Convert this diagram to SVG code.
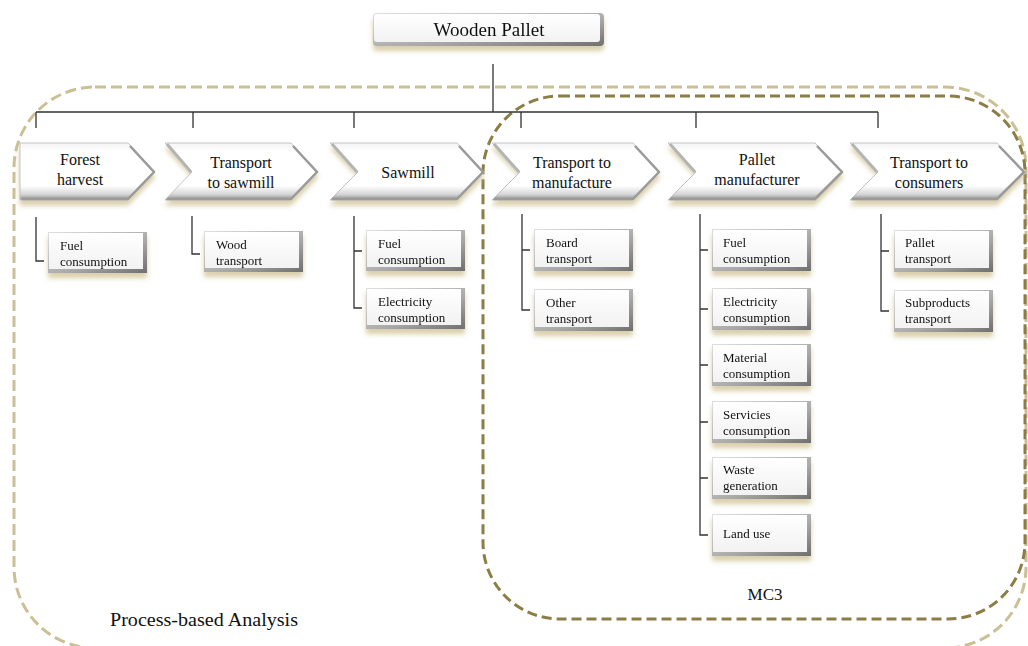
<svg xmlns="http://www.w3.org/2000/svg" width="1028" height="646" viewBox="0 0 1028 646">
<defs>
<linearGradient id="chevG" x1="0" y1="0" x2="0" y2="1">
<stop offset="0" stop-color="#f4f4f4"/>
<stop offset="0.15" stop-color="#ffffff"/>
<stop offset="0.75" stop-color="#ffffff"/>
<stop offset="0.9" stop-color="#d6d6d6"/>
<stop offset="1" stop-color="#8a8a8a"/>
</linearGradient>
<linearGradient id="boxEdge" x1="0" y1="0" x2="1" y2="1">
<stop offset="0" stop-color="#e0e0e0"/>
<stop offset="0.6" stop-color="#a8a8a8"/>
<stop offset="1" stop-color="#6f6f6f"/>
</linearGradient>
<linearGradient id="boxFace" x1="0" y1="0" x2="0" y2="1">
<stop offset="0" stop-color="#ffffff"/>
<stop offset="1" stop-color="#f2f2f2"/>
</linearGradient>
<filter id="sh" x="-10%" y="-20%" width="120%" height="160%">
<feGaussianBlur in="SourceAlpha" stdDeviation="2.5"/>
<feOffset dx="0" dy="5" result="b"/>
<feFlood flood-color="#cdbf8f" flood-opacity="0.75"/>
<feComposite in2="b" operator="in" result="s"/>
<feMerge><feMergeNode in="s"/><feMergeNode in="SourceGraphic"/></feMerge>
</filter>
</defs>
<style>
.chev{fill:url(#chevG);stroke:#c4c4c4;stroke-width:1;filter:url(#sh)}
.bev{fill:none;stroke:#9a9a9a;stroke-width:2.5;stroke-linejoin:round}
.notch{fill:none;stroke:#b4b4b4;stroke-width:3;stroke-linejoin:round}
.ct{font-family:"Liberation Serif","Times New Roman",serif;font-size:16px;fill:#111;text-anchor:middle}
.bt{font-family:"Liberation Serif","Times New Roman",serif;font-size:13px;fill:#111}
.edge{fill:url(#boxEdge)}
.face{fill:url(#boxFace)}
.conn{fill:none;stroke:#333;stroke-width:1.3}
.outer{fill:none;stroke:#cbbf95;stroke-width:3;stroke-dasharray:11 5}
.inner{fill:none;stroke:#8c7d45;stroke-width:3;stroke-dasharray:10 5}
.lbl{font-family:"Liberation Serif","Times New Roman",serif;fill:#111;text-anchor:middle}
</style>
<rect width="1028" height="646" fill="#fff"/>

<g id="boundaries">
<rect class="outer" x="14" y="87" width="1012" height="561" rx="81" ry="81"/>
<rect class="inner" x="483" y="96" width="542" height="523" rx="77" ry="77"/>
</g>

<g id="connectors">
<path class="conn" d="M493 64V112M36 112H878M36 112V128M193 112V128M354 112V128M521 112V128M696 112V128M878 112V128"/>
<path class="conn" d="M36 217V261H44"/>
<path class="conn" d="M192 216V254H200"/>
<path class="conn" d="M354 216V308H362M354 251H362"/>
<path class="conn" d="M522 214V310H530M522 250H530"/>
<path class="conn" d="M700 214V535H708M700 250H708M700 309H708M700 365H708M700 422H708M700 478H708"/>
<path class="conn" d="M881 214V311H889M881 251H889"/>
</g>

<g id="root" filter="url(#sh)">
<rect x="373" y="13" width="231" height="33" rx="4" fill="url(#boxEdge)"/>
<rect x="374" y="14" width="226" height="28" rx="3" class="face"/>
<text class="lbl" x="489" y="36" font-size="19">Wooden Pallet</text>
</g>

<g id="forest-harvest">
<polygon class="chev" points="20,143 128,143 155,172 128,200 20,200"/>
<polyline class="bev" points="130,146 154,172 128,199 22,199"/>
<text class="ct" x="80" y="165">Forest</text>
<text class="ct" x="80" y="185">harvest</text>
</g>
<g id="transport-sawmill">
<polygon class="chev" points="165,143 291,143 318,172 291,200 165,200 192,172"/>
<polyline class="notch" points="167,144 191,172"/>
<polyline class="bev" points="293,146 317,172 291,199 167,199"/>
<text class="ct" x="241" y="168">Transport</text>
<text class="ct" x="241" y="188">to sawmill</text>
</g>
<g id="sawmill">
<polygon class="chev" points="330,143 457,143 484,172 457,200 330,200 358,172"/>
<polyline class="notch" points="332,144 357,172"/>
<polyline class="bev" points="459,146 483,172 457,199 332,199"/>
<text class="ct" x="408" y="178">Sawmill</text>
</g>
<g id="transport-manufacture">
<polygon class="chev" points="492,143 633,143 660,172 633,200 492,200 520,172"/>
<polyline class="notch" points="494,144 519,172"/>
<polyline class="bev" points="635,146 659,172 633,199 494,199"/>
<text class="ct" x="572" y="168">Transport to</text>
<text class="ct" x="572" y="188">manufacture</text>
</g>
<g id="pallet-manufacturer">
<polygon class="chev" points="668,143 815,143 843,172 815,200 668,200 696,172"/>
<polyline class="notch" points="670,144 695,172"/>
<polyline class="bev" points="817,146 842,172 815,199 670,199"/>
<text class="ct" x="757" y="165">Pallet</text>
<text class="ct" x="757" y="185">manufacturer</text>
</g>
<g id="transport-consumers">
<polygon class="chev" points="850,143 997,143 1025,172 997,200 850,200 878,172"/>
<polyline class="notch" points="852,144 877,172"/>
<polyline class="bev" points="999,146 1024,172 997,199 852,199"/>
<text class="ct" x="929" y="168">Transport to</text>
<text class="ct" x="929" y="188">consumers</text>
</g>

<g id="fh-fuel" filter="url(#sh)">
<rect class="edge" x="48" y="232" width="99" height="41"/>
<rect class="face" x="49" y="233" width="94" height="36"/>
<text class="bt" x="60" y="250">Fuel</text><text class="bt" x="60" y="266">consumption</text>
</g>
<g id="ts-wood" filter="url(#sh)">
<rect class="edge" x="204" y="231" width="99" height="41"/>
<rect class="face" x="205" y="232" width="94" height="36"/>
<text class="bt" x="216" y="249">Wood</text><text class="bt" x="216" y="265">transport</text>
</g>
<g id="sm-fuel" filter="url(#sh)">
<rect class="edge" x="366" y="230" width="99" height="41"/>
<rect class="face" x="367" y="231" width="94" height="36"/>
<text class="bt" x="378" y="248">Fuel</text><text class="bt" x="378" y="264">consumption</text>
</g>
<g id="sm-elec" filter="url(#sh)">
<rect class="edge" x="366" y="288" width="99" height="41"/>
<rect class="face" x="367" y="289" width="94" height="36"/>
<text class="bt" x="378" y="306">Electricity</text><text class="bt" x="378" y="322">consumption</text>
</g>
<g id="tm-board" filter="url(#sh)">
<rect class="edge" x="534" y="229" width="99" height="42"/>
<rect class="face" x="535" y="230" width="94" height="37"/>
<text class="bt" x="546" y="247">Board</text><text class="bt" x="546" y="263">transport</text>
</g>
<g id="tm-other" filter="url(#sh)">
<rect class="edge" x="534" y="289" width="99" height="42"/>
<rect class="face" x="535" y="290" width="94" height="37"/>
<text class="bt" x="546" y="307">Other</text><text class="bt" x="546" y="323">transport</text>
</g>
<g id="pm-fuel" filter="url(#sh)">
<rect class="edge" x="712" y="229" width="99" height="42"/>
<rect class="face" x="713" y="230" width="94" height="37"/>
<text class="bt" x="723" y="247">Fuel</text><text class="bt" x="723" y="263">consumption</text>
</g>
<g id="pm-elec" filter="url(#sh)">
<rect class="edge" x="712" y="288" width="99" height="42"/>
<rect class="face" x="713" y="289" width="94" height="37"/>
<text class="bt" x="723" y="306">Electricity</text><text class="bt" x="723" y="322">consumption</text>
</g>
<g id="pm-material" filter="url(#sh)">
<rect class="edge" x="712" y="344" width="99" height="42"/>
<rect class="face" x="713" y="345" width="94" height="37"/>
<text class="bt" x="723" y="362">Material</text><text class="bt" x="723" y="378">consumption</text>
</g>
<g id="pm-services" filter="url(#sh)">
<rect class="edge" x="712" y="401" width="99" height="42"/>
<rect class="face" x="713" y="402" width="94" height="37"/>
<text class="bt" x="723" y="419">Servicies</text><text class="bt" x="723" y="435">consumption</text>
</g>
<g id="pm-waste" filter="url(#sh)">
<rect class="edge" x="712" y="457" width="99" height="42"/>
<rect class="face" x="713" y="458" width="94" height="37"/>
<text class="bt" x="723" y="474">Waste</text><text class="bt" x="723" y="490">generation</text>
</g>
<g id="pm-land" filter="url(#sh)">
<rect class="edge" x="712" y="514" width="99" height="42"/>
<rect class="face" x="713" y="515" width="94" height="37"/>
<text class="bt" x="723" y="538">Land use</text>
</g>
<g id="tc-pallet" filter="url(#sh)">
<rect class="edge" x="894" y="230" width="99" height="42"/>
<rect class="face" x="895" y="231" width="94" height="37"/>
<text class="bt" x="905" y="247">Pallet</text><text class="bt" x="905" y="263">transport</text>
</g>
<g id="tc-sub" filter="url(#sh)">
<rect class="edge" x="894" y="290" width="99" height="42"/>
<rect class="face" x="895" y="291" width="94" height="37"/>
<text class="bt" x="905" y="307">Subproducts</text><text class="bt" x="905" y="323">transport</text>
</g>

<text class="lbl" x="765" y="600" font-size="17">MC3</text>
<text class="lbl" x="204" y="626" font-size="18" textLength="188" lengthAdjust="spacingAndGlyphs">Process-based Analysis</text>
</svg>
